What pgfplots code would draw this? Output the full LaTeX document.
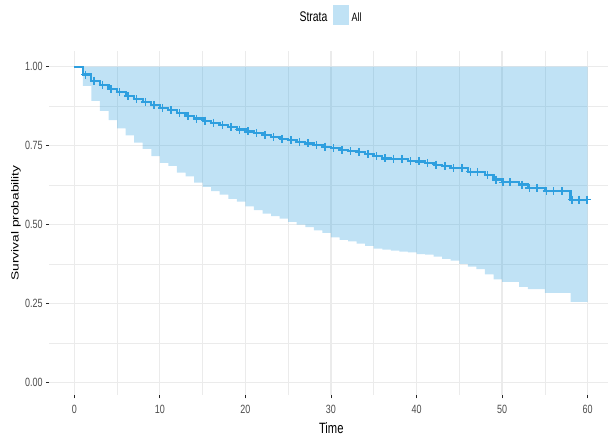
\documentclass[border=0pt]{standalone}
\usepackage{pgfplots}
\pgfplotsset{compat=1.18}
\usepgfplotslibrary{fillbetween}
\usepackage{fontspec}
\setmainfont{Liberation Sans}
\definecolor{km}{HTML}{2E9FDF}
\definecolor{gridc}{HTML}{EBEBEB}
\definecolor{tickc}{HTML}{4D4D4D}
\newcommand\nar[1]{\scalebox{0.75}[1]{#1}}
\begin{document}
\begin{tikzpicture}
\begin{axis}[
  at={(49.3bp,43bp)}, anchor=south west,
  scale only axis, width=564bp, height=344bp,
  xmin=-2.92, xmax=63, ymin=-0.039, ymax=1.0497,
  axis line style={draw=none},
  xtick={0,10,20,30,40,50,60},
  xticklabels={\nar{0},\nar{10},\nar{20},\nar{30},\nar{40},\nar{50},\nar{60}},
  ytick={0,0.25,0.5,0.75,1},
  yticklabels={\nar{0.00},\nar{0.25},\nar{0.50},\nar{0.75},\nar{1.00}},
  minor xtick={5,15,25,35,45,55},
  minor ytick={0.125,0.375,0.625,0.875},
  grid=both,
  major grid style={gridc, line width=1.2bp},
  minor grid style={gridc, line width=0.6bp},
  tick align=outside, major tick length=3.5bp, minor tick length=0pt,
  xtick pos=left, ytick pos=left,
  tick style={color=black!85, line width=0.8bp},
  tick label style={font=\fontsize{12}{14}\selectfont, text=tickc},
  xticklabel style={inner sep=0pt, anchor=north, yshift=-6bp},
  yticklabel style={inner sep=0pt, anchor=east, xshift=-3bp},
  xlabel={\nar{\fontsize{15}{17}\selectfont Time}},
  xlabel style={at={(axis description cs:0.5,-0.0974)}, anchor=center, inner sep=0pt},
  ylabel={\scalebox{1}[0.75]{\fontsize{13.8}{15}\selectfont Survival probability}},
  ylabel style={at={(axis description cs:-0.059,0.5)}, anchor=center, inner sep=0pt},
]
\addplot[name path=lo, const plot, draw=none] coordinates {
(0,1)(1,0.939)(2,0.892)(3,0.860)(4,0.831)(5,0.805)(6,0.783)(7,0.760)(8,0.740)(9,0.717)(10,0.696)(11,0.686)(12,0.665)(13,0.653)(14,0.633)(15,0.620)(16,0.606)(17,0.595)(18,0.582)(19,0.573)(20,0.558)(21,0.546)(22,0.535)(23,0.527)(24,0.519)(25,0.509)(26,0.500)(27,0.492)(28,0.482)(29,0.474)(30,0.460)(31,0.452)(32,0.447)(33,0.440)(34,0.433)(35,0.424)(36,0.421)(37,0.418)(38,0.415)(39,0.412)(40,0.407)(41,0.405)(42,0.399)(43,0.392)(44,0.386)(45,0.376)(46,0.367)(47,0.359)(48,0.343)(49,0.327)(50,0.319)(52,0.303)(53,0.296)(55,0.284)(58,0.256)(60,0.256)};
\addplot[name path=hi, draw=none] coordinates {(0,1)(60,1)};
\addplot[km, fill opacity=0.3, draw=none] fill between[of=hi and lo];
\addplot[const plot, km, line width=2.2bp] coordinates {
(0,1.000)(1,0.975)(2,0.956)(3,0.942)(4,0.929)(5,0.919)(6,0.908)(7,0.897)(8,0.889)(9,0.879)(10,0.869)(11,0.862)(12,0.853)(13,0.844)(14,0.836)(15,0.829)(16,0.822)(17,0.815)(18,0.808)(19,0.801)(20,0.795)(21,0.789)(22,0.783)(23,0.777)(24,0.772)(25,0.767)(26,0.762)(27,0.757)(28,0.752)(29,0.747)(30,0.742)(31,0.736)(32,0.733)(33,0.7295)(34,0.7244)(35,0.717)(36,0.7095)(37,0.709)(38,0.708)(39,0.701)(40,0.700)(41,0.696)(42,0.690)(43,0.685)(44,0.679)(45,0.679)(46,0.668)(47,0.667)(48,0.6565)(49,0.643)(50,0.634)(52,0.627)(53,0.6165)(55,0.606)(58,0.579)(60,0.579)};
\addplot[only marks, mark=+, mark size=4bp, km, line width=1.5bp] coordinates {
(1.3,0.975)(2.3,0.956)(3.3,0.942)(4.3,0.929)(5.3,0.919)(6.3,0.908)(7.3,0.897)(8.3,0.889)(9.3,0.879)(10.3,0.869)(11.3,0.862)(12.3,0.853)(13.3,0.844)(14.3,0.836)(15.3,0.829)(16.3,0.822)(17.3,0.815)(18.3,0.808)(19.3,0.801)(20.3,0.795)(21.3,0.789)(22.3,0.783)(23.3,0.777)(24.3,0.772)(25.3,0.767)(26.3,0.762)(27.3,0.757)(28.3,0.752)(29.3,0.747)(30.3,0.742)(31.3,0.736)(32.3,0.733)(33.3,0.7295)(34.3,0.7244)(35.3,0.717)(36.3,0.7095)(37.3,0.709)(38.3,0.708)(39.3,0.701)(40.3,0.700)(41.3,0.696)(42.3,0.690)(43.3,0.685)(44.3,0.679)(45.3,0.679)(46.3,0.668)(47.1,0.667)(48.3,0.6565)(49.3,0.643)(50.1,0.634)(50.9,0.634)(52.3,0.627)(53.2,0.6165)(54.1,0.6165)(55.2,0.606)(56.0,0.606)(57.0,0.606)(58.2,0.579)(59.0,0.579)(59.9,0.579)};
\end{axis}
\node[anchor=center, inner sep=0pt] at (313.5bp,421.3bp) {\nar{\fontsize{14}{16}\selectfont Strata}};
\fill[km, fill opacity=0.3] (333.3bp,413bp) rectangle (349.3bp,433bp);
\node[anchor=center, inner sep=0pt] at (356.7bp,420.5bp) {\nar{\fontsize{12}{14}\selectfont All}};
\pgfresetboundingbox
\useasboundingbox (0bp,0bp) rectangle (608bp,438bp);
\end{tikzpicture}
\end{document}
